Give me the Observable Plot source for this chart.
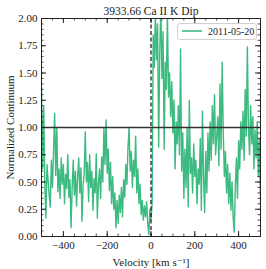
<!DOCTYPE html>
<html>
<head>
<meta charset="utf-8">
<script src="https://cdn.jsdelivr.net/npm/d3@7"></script>
<script src="https://cdn.jsdelivr.net/npm/@observablehq/plot@0.6"></script>
<style>
  html, body { margin: 0; padding: 0; background: white; }
</style>
</head>
<body>
<div id="chart"></div>
<script>
const title = "3933.66 Ca II K Dip";
const seriesLabel = "2011-05-20";
const xLabel = "Velocity [km s\u207B\u00B9]";
const yLabel = "Normalized Continuum";

const velocityStart = -500, velocityStep = 5;
const flux = [
  1.37, 0.62, 1.20, 0.48, 0.17, 0.66, 0.52, 0.38, 0.27, 0.70,
  0.45, 0.78, 1.13, 0.56, 1.00, 0.41, 0.62, 0.35, 0.72, 0.48,
  0.66, 0.30, 0.57, 0.44, 0.75, 0.36, 0.52, 0.08, 0.45, 0.70,
  0.38, 0.60, 0.28, 0.55, 0.72, 0.40, 0.63, 0.14, 0.47, 0.58,
  0.96, 0.50, 0.68, 0.32, 0.75, 0.45, 0.60, 0.24, 0.53, 0.40,
  0.76, 0.17, 0.48, 0.62, 0.35, 0.73, 0.50, 1.00, 0.66, 1.07,
  0.58, 0.80, 0.42, 0.68, 0.30, 0.55, 0.25, 0.40, 0.08, 0.33,
  0.12, 0.38, 0.22, 0.45, 0.18, 0.52, 0.36, 0.66, 0.48, 0.82,
  1.00, 0.60, 0.78, 0.45, 0.70, 0.55, 0.92, 0.40, 0.62, 0.30,
  0.48, 0.20, 0.33, 0.15, 0.28, 0.18, 0.32, 0.12, 0.02, 0.25,
  0.15, 0.30, 1.85, 1.55, 2.05, 1.62, 1.95, 0.82, 1.70, 2.10,
  1.45, 1.88, 0.80, 1.60, 1.35, 2.05, 1.28, 1.50, 1.10, 1.42,
  0.95, 1.25, 0.62, 1.05, 0.85, 1.20, 0.75, 1.72, 0.60, 0.95,
  0.35, 0.80, 0.45, 1.00, 0.27, 1.25, 0.58, 0.72, 0.40, 0.85,
  0.55, 0.70, 0.30, 0.62, 0.48, 0.90, 0.24, 1.15, 0.55, 0.22,
  0.78, 0.40, 0.95, 0.60, 1.05, 0.70, 1.20, 0.85, 1.30, 0.75,
  0.92, 1.10, 0.65, 1.40, 0.80, 1.60, 0.95, 0.55, 0.78, 0.40,
  0.66, 0.30, 0.58, 0.24, 0.50, 0.18, 0.04, 0.45, 0.72, 0.35,
  0.88, 0.62, 1.05, 0.80, 1.15, 0.70, 1.35, 0.92, 1.74, 1.00,
  0.75, 1.20, 0.85, 1.10, 0.62, 0.98, 0.72, 1.05, 0.55, 0.90,
  0.30
];
const xMajorTicks = [-400, -200, 0, 200, 400];
const xMinorTicks = d3.range(-500, 501, 50);
const yMajorTicks = [0, 0.25, 0.5, 0.75, 1.0, 1.25, 1.5, 1.75, 2.0];
const yMinorTicks = d3.range(0, 41).map(i => i * 0.05);
const continuumLevel = [1];
const restVelocity = [0];

const data = flux.map((f, i) => ({v: velocityStart + i * velocityStep, f}));

const W = 266, H = 269;
const mT = 18, mR = 6, mB = 33, mL = 41;
const fw = W - mL - mR, fh = H - mT - mB;
const green = "#3cba80";
const serif = "'Liberation Serif', 'DejaVu Serif', serif";

const plot = Plot.plot({
  width: W, height: H,
  marginTop: mT, marginRight: mR, marginBottom: mB, marginLeft: mL,
  style: {fontFamily: serif, fontSize: "11px", background: "white", color: "#222"},
  x: {domain: [-500, 500]},
  y: {domain: [0, 2]},
  marks: [
    Plot.line(data, {x: "v", y: "f", stroke: green, strokeWidth: 1.4, clip: true}),
    Plot.ruleY(continuumLevel, {stroke: "#333", strokeWidth: 1.5}),
    Plot.ruleX(restVelocity, {stroke: "#111", strokeWidth: 1.2, strokeDasharray: "4,2.5"}),
    Plot.frame({stroke: "#222", strokeWidth: 1}),
    Plot.tickX(xMinorTicks, {x: d => d, insetTop: fh - 2.5, stroke: "#222", strokeWidth: 0.8}),
    Plot.tickX(xMinorTicks, {x: d => d, insetBottom: fh - 2.5, stroke: "#222", strokeWidth: 0.8}),
    Plot.tickX(xMajorTicks, {x: d => d, insetTop: fh - 5, stroke: "#222", strokeWidth: 1}),
    Plot.tickX(xMajorTicks, {x: d => d, insetBottom: fh - 5, stroke: "#222", strokeWidth: 1}),
    Plot.tickY(yMinorTicks, {y: d => d, insetRight: fw - 2.5, stroke: "#222", strokeWidth: 0.8}),
    Plot.tickY(yMinorTicks, {y: d => d, insetLeft: fw - 2.5, stroke: "#222", strokeWidth: 0.8}),
    Plot.tickY(yMajorTicks, {y: d => d, insetRight: fw - 5, stroke: "#222", strokeWidth: 1}),
    Plot.tickY(yMajorTicks, {y: d => d, insetLeft: fw - 5, stroke: "#222", strokeWidth: 1}),
    Plot.axisX({anchor: "bottom", ticks: xMajorTicks, tickSize: 0, tickPadding: 5,
      tickFormat: d => d < 0 ? "\u2212" + Math.abs(d) : String(d),
      label: xLabel, labelAnchor: "center", labelArrow: "none", labelOffset: 29}),
    Plot.axisY({anchor: "left", ticks: yMajorTicks, tickSize: 0, tickPadding: 4,
      tickFormat: d => d.toFixed(2),
      label: yLabel, labelAnchor: "center", labelArrow: "none", labelOffset: 35}),
    Plot.text([title], {frameAnchor: "top", dy: -4, lineAnchor: "bottom", fontSize: 11.5, fill: "#222"})
  ]
});

// legend
const svg = d3.select(plot);
const lg = svg.append("g");
lg.append("rect").attr("x", 177.5).attr("y", 23.5).attr("width", 79).attr("height", 16)
  .attr("rx", 2.5).attr("fill", "white").attr("fill-opacity", 0.85)
  .attr("stroke", "#cccccc").attr("stroke-width", 0.9);
lg.append("line").attr("x1", 182).attr("x2", 202).attr("y1", 31).attr("y2", 31)
  .attr("stroke", green).attr("stroke-width", 1.6);
lg.append("text").attr("x", 208).attr("y", 34.5).text(seriesLabel)
  .attr("text-anchor", "start")
  .attr("font-size", 10).attr("fill", "#222")
  .attr("font-family", serif);

document.getElementById("chart").appendChild(plot);
</script>
</body>
</html>
